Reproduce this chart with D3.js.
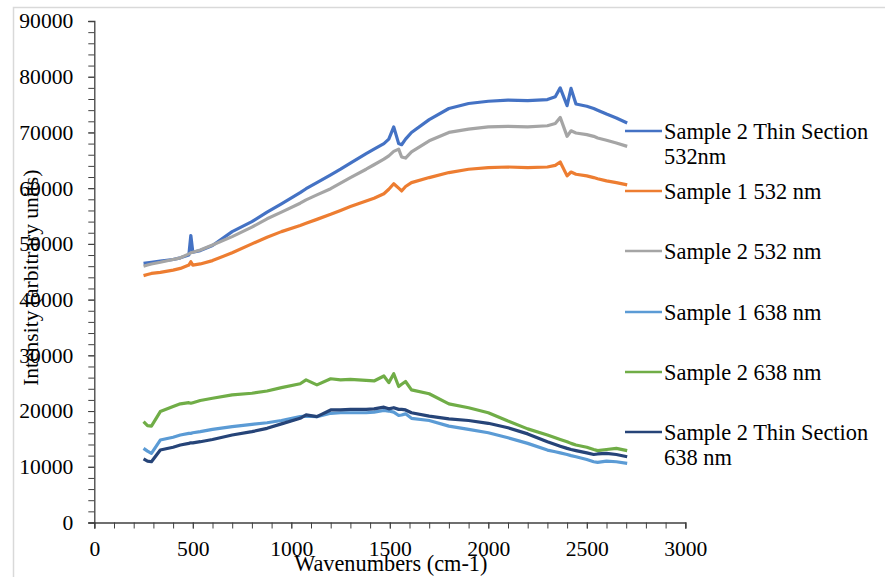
<!DOCTYPE html>
<html>
<head>
<meta charset="utf-8">
<script src="https://cdn.jsdelivr.net/npm/d3@7"></script>
<style>
  html, body { margin: 0; padding: 0; background: #fff; }
  svg { display: block; }
  text { font-family: "Liberation Serif", "Times New Roman", serif; fill: #000; }
</style>
</head>
<body>
<svg id="chart" width="885" height="577"></svg>
<script>
// ---- data ----
const wavenumbers = [250, 270, 290, 335, 400, 437, 480, 490, 500, 538, 600, 700, 800, 877, 950, 1045, 1075, 1130, 1200, 1250, 1300, 1380, 1420, 1470, 1495, 1520, 1545, 1560, 1580, 1610, 1700, 1800, 1900, 2000, 2100, 2200, 2300, 2340, 2365, 2400, 2420, 2445, 2500, 2535, 2555, 2600, 2650, 2705];

const s2ThinSection532 = [46500, 46600, 46700, 46900, 47200, 47500, 48000, 51500, 48500, 48800, 49700, 52200, 54000, 55700, 57200, 59200, 59900, 61000, 62400, 63400, 64500, 66200, 67000, 68000, 68800, 71000, 68000, 67800, 68800, 70000, 72300, 74300, 75200, 75600, 75800, 75700, 75900, 76400, 78000, 74800, 77900, 75100, 74700, 74300, 74000, 73300, 72600, 71700];

const s1_532 = [44300, 44500, 44700, 44900, 45300, 45600, 46200, 46800, 46200, 46400, 47000, 48400, 50000, 51200, 52200, 53300, 53700, 54400, 55300, 56000, 56700, 57700, 58200, 59000, 59800, 60800, 60000, 59500, 60300, 61000, 61900, 62800, 63400, 63700, 63800, 63700, 63800, 64100, 64700, 62200, 62900, 62500, 62200, 61900, 61700, 61300, 61000, 60600];

const s2_532 = [46000, 46200, 46400, 46700, 47200, 47500, 48200, 48400, 48500, 48900, 49800, 51300, 53000, 54500, 55700, 57300, 57900, 58800, 59900, 60900, 61900, 63400, 64200, 65200, 65800, 66600, 67000, 65600, 65400, 66500, 68500, 70000, 70600, 71000, 71100, 71000, 71200, 71600, 72700, 69300, 70300, 69900, 69600, 69300, 69000, 68600, 68100, 67500];

const s1_638 = [13300, 12800, 12400, 14800, 15300, 15700, 16000, 16000, 16100, 16300, 16700, 17200, 17600, 17900, 18300, 19000, 19100, 19000, 19600, 19700, 19700, 19700, 19800, 20100, 20000, 19800, 19200, 19300, 19500, 18700, 18300, 17300, 16700, 16100, 15200, 14200, 13000, 12700, 12500, 12200, 12000, 11800, 11300, 10900, 10800, 11000, 10900, 10600];

const s2_638 = [18100, 17400, 17300, 19900, 20800, 21300, 21500, 21400, 21500, 21900, 22300, 22900, 23200, 23600, 24200, 24900, 25600, 24700, 25800, 25600, 25700, 25500, 25400, 26300, 25100, 26700, 24400, 24800, 25300, 23800, 23100, 21300, 20600, 19700, 18200, 16800, 15700, 15200, 14900, 14500, 14200, 13900, 13500, 13100, 12900, 13100, 13300, 12900];

const s2ThinSection638 = [11400, 11000, 10900, 13000, 13500, 13900, 14200, 14300, 14300, 14500, 14900, 15700, 16300, 16900, 17700, 18700, 19300, 19000, 20200, 20200, 20300, 20300, 20400, 20700, 20400, 20600, 20300, 20300, 20200, 19700, 19100, 18600, 18300, 17800, 17000, 15900, 14500, 14000, 13700, 13300, 13100, 12900, 12500, 12200, 12300, 12400, 12200, 11800];

const seriesNames = ["Sample 2 Thin Section 532nm", "Sample 1 532 nm", "Sample 2 532 nm", "Sample 1 638 nm", "Sample 2 638 nm", "Sample 2 Thin Section 638 nm"];
const legendLines = [["Sample 2 Thin Section", "532nm"], ["Sample 1 532 nm"], ["Sample 2 532 nm"], ["Sample 1 638 nm"], ["Sample 2 638 nm"], ["Sample 2 Thin Section", "638 nm"]];
const seriesColors = ["#4472C4", "#ED7D31", "#A5A5A5", "#5B9BD5", "#70AD47", "#264478"];
const seriesValues = [s2ThinSection532, s1_532, s2_532, s1_638, s2_638, s2ThinSection638];

const xTicks = [0, 500, 1000, 1500, 2000, 2500, 3000];
const yTicks = [0, 10000, 20000, 30000, 40000, 50000, 60000, 70000, 80000, 90000];
const xTitle = "Wavenumbers (cm-1)";
const yTitle = "Intensity (arbitrary units)";

// ---- layout ----
const svg = d3.select("#chart");
const plot = { left: 94.3, right: 685.3, top: 21, bottom: 522.5 };

svg.append("rect")
  .attr("x", 13.5).attr("y", 7.5).attr("width", 900).attr("height", 600)
  .attr("fill", "none").attr("stroke", "#d9d9d9").attr("stroke-width", 1.5);

const x = d3.scaleLinear().domain([0, 3000]).range([plot.left, plot.right]);
const y = d3.scaleLinear().domain([0, 90000]).range([plot.bottom, plot.top]);

const axisColor = "#404040";

// minor ticks
const xAxisMinor = d3.axisBottom(x).tickValues(d3.range(0, 3001, 100)).tickSize(6).tickFormat("");
const yAxisMinor = d3.axisLeft(y).tickValues(d3.range(0, 90001, 2000)).tickSize(6).tickFormat("");

const gxMinor = svg.append("g").attr("transform", `translate(0,${plot.bottom})`).call(xAxisMinor);
const gyMinor = svg.append("g").attr("transform", `translate(${plot.left},0)`).call(yAxisMinor);
[gxMinor, gyMinor].forEach(g => {
  g.select(".domain").attr("stroke", axisColor).attr("stroke-width", 1.3);
  g.selectAll(".tick line").attr("stroke", axisColor).attr("stroke-width", 1);
});

// major labels
const xAxis = d3.axisBottom(x).tickValues(xTicks).tickSize(6).tickPadding(12).tickFormat(d3.format("d"));
const yAxis = d3.axisLeft(y).tickValues(yTicks).tickSize(6).tickPadding(15).tickFormat(d3.format("d"));
const gx = svg.append("g").attr("transform", `translate(0,${plot.bottom})`).call(xAxis);
const gy = svg.append("g").attr("transform", `translate(${plot.left},0)`).call(yAxis);
[gx, gy].forEach(g => {
  g.select(".domain").remove();
  g.selectAll(".tick line").attr("stroke", axisColor).attr("stroke-width", 1);
  g.selectAll(".tick text").attr("font-family", "Liberation Serif, serif").attr("font-size", 21.6).attr("fill", "#000");
});

// lines
const line = d3.line().x((d, i) => x(wavenumbers[i])).y(d => y(d));
seriesValues.forEach((vals, k) => {
  svg.append("path")
    .datum(vals)
    .attr("fill", "none")
    .attr("stroke", seriesColors[k])
    .attr("stroke-width", 3.2)
    .attr("stroke-linejoin", "round")
    .attr("d", line);
});

// axis titles
svg.append("text")
  .attr("x", (plot.left + plot.right) / 2 + 1).attr("y", 571)
  .attr("text-anchor", "middle").attr("font-size", 22.3)
  .text(xTitle);

svg.append("text")
  .attr("transform", `translate(38,${(plot.top + plot.bottom) / 2 + 6}) rotate(-90)`)
  .attr("text-anchor", "middle").attr("font-size", 21.5)
  .text(yTitle);

// legend
const legendY = [131, 191, 251, 312, 372, 432];
legendLines.forEach((lines, k) => {
  const g = svg.append("g");
  g.append("line")
    .attr("x1", 625).attr("x2", 662)
    .attr("y1", legendY[k]).attr("y2", legendY[k])
    .attr("stroke", seriesColors[k]).attr("stroke-width", 2.5);
  lines.forEach((t, j) => {
    g.append("text")
      .attr("x", 664).attr("y", legendY[k] + 7.5 + j * 25.5)
      .attr("font-size", 22.4)
      .text(t);
  });
});
</script>
</body>
</html>
